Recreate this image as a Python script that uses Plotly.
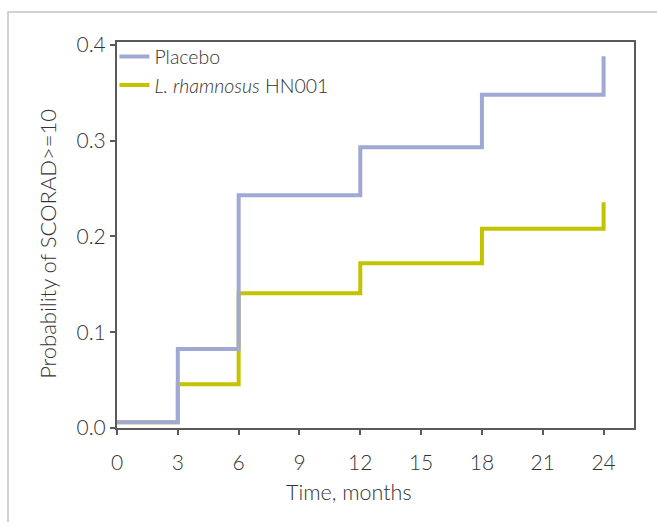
import plotly.graph_objects as go

months = [0, 3, 6, 12, 18, 24]
placebo = [0.006, 0.0825, 0.243, 0.293, 0.348, 0.388]
hn001 = [0.006, 0.0456, 0.1406, 0.172, 0.208, 0.2356]
x_ticks = [0, 3, 6, 9, 12, 15, 18, 21, 24]
y_ticks = [0.0, 0.1, 0.2, 0.3, 0.4]

FONT = "Lato"
TXT = "#333333"
AX = "#5a5a5a"

fig = go.Figure()
fig.add_trace(go.Scatter(x=months, y=hn001, mode="lines", line=dict(shape="hv", color="#C3C300", width=4),
                         name="<i>L. rhamnosus</i> HN001", legendrank=2))
fig.add_trace(go.Scatter(x=months, y=placebo, mode="lines", line=dict(shape="hv", color="#A0A9D3", width=4),
                         name="Placebo", legendrank=1))

fig.update_layout(
    width=657, height=522,
    margin=dict(l=117, r=23, t=42, b=94),
    paper_bgcolor="white", plot_bgcolor="white",
    font=dict(family=FONT, size=21, color=TXT, weight=300),
    showlegend=True,
    legend=dict(x=-0.005, y=1.012, xanchor="left", yanchor="top", bgcolor="rgba(0,0,0,0)",
                font=dict(size=19.5, color=TXT, weight=300), itemwidth=30, tracegroupgap=0),
    xaxis=dict(range=[0, 25.5], tickvals=x_ticks, ticktext=[str(v) for v in x_ticks],
               showgrid=False, zeroline=False, showline=True, linecolor=AX, linewidth=2,
               mirror=True, ticks="outside", ticklen=5, tickwidth=2, tickcolor=AX,
               ticklabelstandoff=10, tickfont=dict(size=21, weight=300)),
    yaxis=dict(range=[0, 0.403], tickvals=y_ticks, ticktext=[f"{v:.1f}" for v in y_ticks],
               showgrid=False, zeroline=False, showline=True, linecolor=AX, linewidth=2,
               mirror=True, ticks="outside", ticklen=5, tickwidth=2, tickcolor=AX,
               ticklabelstandoff=0, tickfont=dict(size=21, weight=300)),
    annotations=[
        dict(text="Time, months", xref="paper", yref="paper", x=0.449, y=-0.166,
             xanchor="center", yanchor="middle", showarrow=False,
             font=dict(size=21.5, color=TXT, weight=300)),
        dict(text="Probability of SCORAD>=10", xref="paper", yref="paper", x=-0.1335, y=0.477,
             xanchor="center", yanchor="middle", textangle=-90, showarrow=False,
             font=dict(size=22, color=TXT, weight=300)),
    ],
    shapes=[
        dict(type="rect", xref="paper", yref="paper", x0=(8 - 117) / 517, x1=1.2,
             y0=-0.4, y1=1 + (42 - 12) / 386, line=dict(color="#c4c4c4", width=1.5),
             fillcolor="rgba(0,0,0,0)", layer="below"),
    ],
)

fig.write_html("out.html")
